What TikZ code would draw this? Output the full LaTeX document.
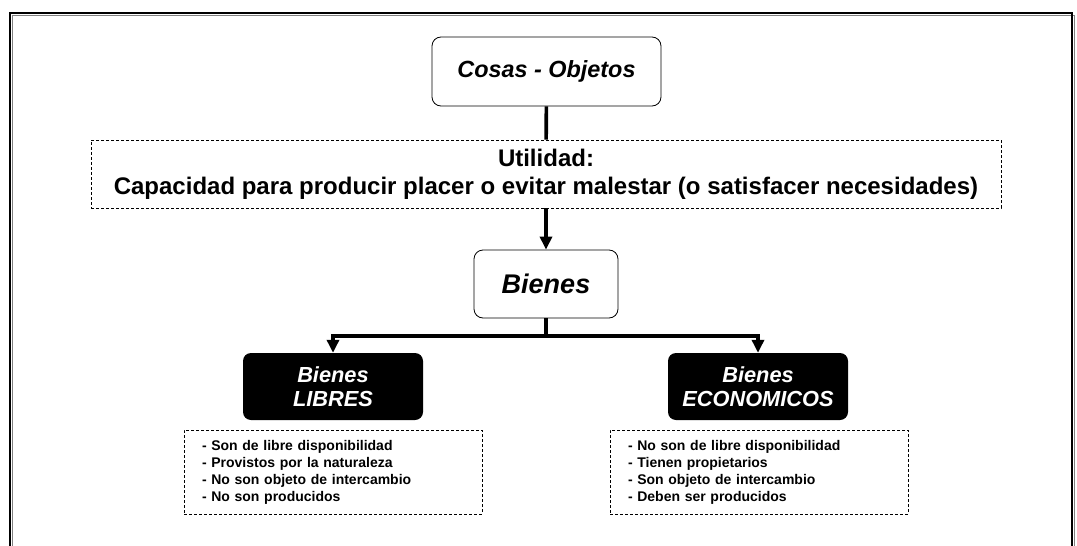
\documentclass[tikz,border=0pt]{standalone}
\usepackage{fontspec}
\setmainfont{Liberation Sans}
\usetikzlibrary{arrows.meta}

\begin{document}
\begin{tikzpicture}[x=1pt, y=-1pt,
	every node/.style = {align=center, inner sep=0pt, font=\bfseries},
	cosabox/.style = {shape=rectangle, rounded corners=9pt, draw, line width=0.8pt,
		fill=white, font=\bfseries\itshape\fontsize{23.4}{26}\selectfont},
	utilbox/.style = {shape=rectangle, draw, densely dashed, line width=0.6pt,
		minimum width=910pt, minimum height=68pt, font=\bfseries\fontsize{24}{28}\selectfont},
	negrobox/.style = {shape=rectangle, rounded corners=8pt, fill=black, text=white,
		minimum width=180pt, minimum height=67pt,
		font=\bfseries\itshape\fontsize{21.8}{23.5}\selectfont},
	listabox/.style = {shape=rectangle, draw, densely dashed, line width=0.6pt,
		minimum width=298pt, minimum height=84pt, align=left, text width=262pt,
		font=\bfseries\fontsize{14}{17}\selectfont},
	linea/.style = {line width=3.6pt},
	flecha/.style = {line width=3.6pt, -{Triangle[width=12pt,length=13pt]}}]
	\clip (0,0) rectangle (1077,546);
	% marco
	\draw[gray, line width=1.2pt] (12.5,15.5) rectangle (1074.5,600);
	\draw[line width=1.2pt] (10,13) rectangle (1072,600);
	% nodos
	\node[cosabox, minimum width=229pt, minimum height=69pt] (cosas) at (546.5,71.5) {Cosas - Objetos};
	\node[utilbox] (utilidad) at (546,174) {Utilidad:\\Capacidad para producir placer o evitar malestar (o satisfacer necesidades)};
	\node[cosabox, minimum width=144pt, minimum height=68pt,
		font=\bfseries\itshape\fontsize{27}{30}\selectfont] (bienes) at (546,284) {Bienes};
	\node[negrobox] (libres) at (333,386.5) {Bienes\\LIBRES};
	\node[negrobox] (economicos) at (758,386.5) {Bienes\\ECONOMICOS};
	\node[listabox] (listalib) at (333,472) {- Son de libre disponibilidad\\- Provistos por la naturaleza\\- No son objeto de intercambio\\- No son producidos};
	\node[listabox] (listaeco) at (759,472) {- No son de libre disponibilidad\\- Tienen propietarios\\- Son objeto de intercambio\\- Deben ser producidos};
	% conectores
	\coordinate (rama) at (546,336);
	\draw[linea] (cosas) -- (utilidad);
	\draw[flecha] (utilidad) -- (bienes);
	\draw[linea] (bienes) -- (rama);
	\draw[flecha] (rama) -| (libres);
	\draw[flecha] (rama) -| (economicos);
\end{tikzpicture}
\end{document}
